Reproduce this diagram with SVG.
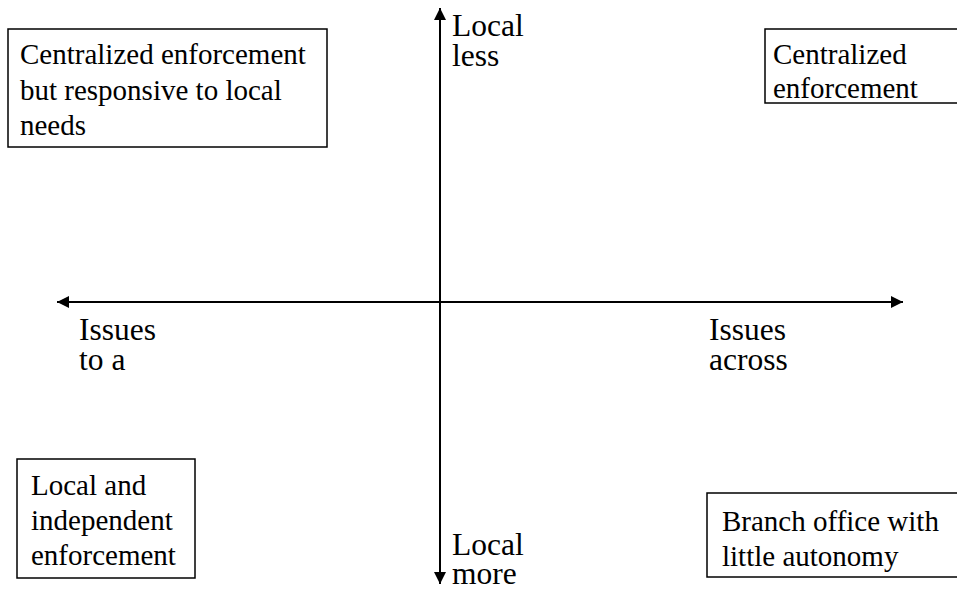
<svg xmlns="http://www.w3.org/2000/svg" width="957" height="590" viewBox="0 0 957 590">
<style>
.box{fill:#fff;stroke:#000;stroke-width:1.5}
.t{font-family:"Liberation Serif","Times New Roman",serif;font-size:29px;fill:#000}
.l{font-family:"Liberation Serif","Times New Roman",serif;font-size:31.5px;fill:#000}
.ax{stroke:#000;stroke-width:2;fill:none}
</style>
<defs>
<marker id="ah" viewBox="0 0 10 10" refX="10" refY="5" markerWidth="12" markerHeight="12" markerUnits="userSpaceOnUse" orient="auto">
<path d="M0,0 L10,5 L0,10 Z" fill="#000"/>
</marker>
</defs>
<g id="connectors">
<line class="ax" x1="440" y1="300" x2="440" y2="8" marker-end="url(#ah)"/>
<line class="ax" x1="440" y1="300" x2="440" y2="584" marker-end="url(#ah)"/>
<line class="ax" x1="440" y1="302" x2="57" y2="302" marker-end="url(#ah)"/>
<line class="ax" x1="440" y1="302" x2="903" y2="302" marker-end="url(#ah)"/>
</g>
<g id="box-tl">
<rect class="box" x="8" y="29" width="319" height="118"/>
<text class="t" x="20" y="64">Centralized enforcement</text>
<text class="t" x="20" y="100">but responsive to local</text>
<text class="t" x="20" y="135">needs</text>
</g>
<g id="box-tr">
<rect class="box" x="765" y="29" width="195" height="74"/>
<text class="t" x="773" y="64">Centralized</text>
<text class="t" x="773" y="98">enforcement</text>
</g>
<g id="box-bl">
<rect class="box" x="17" y="459" width="178" height="119"/>
<text class="t" x="31" y="495">Local and</text>
<text class="t" x="31" y="530">independent</text>
<text class="t" x="31" y="565">enforcement</text>
</g>
<g id="box-br">
<rect class="box" x="707" y="493" width="253" height="84"/>
<text class="t" x="722" y="531">Branch office with</text>
<text class="t" x="722" y="566">little autonomy</text>
</g>
<g id="label-top">
<text class="l" x="452" y="36">Local</text>
<text class="l" x="452" y="66">less</text>
</g>
<g id="label-bottom">
<text class="l" x="452" y="555">Local</text>
<text class="l" x="452" y="584">more</text>
</g>
<g id="label-left">
<text class="l" x="79" y="340">Issues</text>
<text class="l" x="79" y="370">to a</text>
</g>
<g id="label-right">
<text class="l" x="709" y="340">Issues</text>
<text class="l" x="709" y="370">across</text>
</g>
</svg>
